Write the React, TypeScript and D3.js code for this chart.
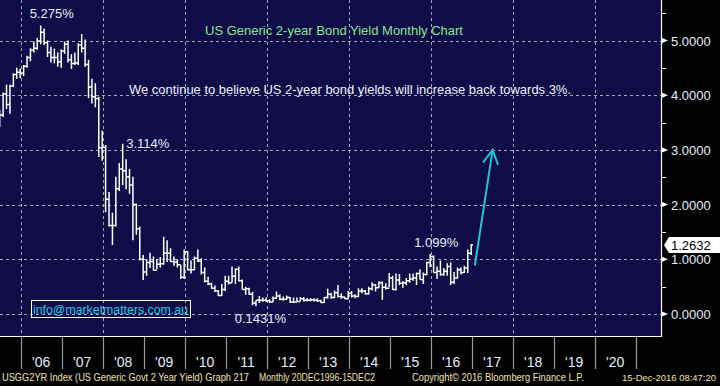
import React from 'react';
import * as d3 from 'd3';

// Monthly OHLC of US Generic 2Y yield, Jun 2005 .. Dec 2016 (open = previous close)
const firstMonth = { year: 2005, month: 5 }; // June 2005 (0-based month)
const firstOpen = 3.55;
const highs = [
  3.73, 4.05, 4.19, 4.19, 4.40, 4.50, 4.49,
  4.55, 4.72, 4.86, 4.98, 5.05, 5.275, 5.22, 5.00, 4.88, 4.85, 4.78, 4.84,
  4.98, 5.00, 4.75, 4.78, 4.95, 5.12, 5.02, 4.65, 4.30, 4.22, 3.97, 3.35,
  3.09, 2.23, 1.85, 2.51, 2.76, 3.114, 2.83, 2.65, 2.51, 2.02, 1.60, 1.08,
  1.00, 1.12, 1.05, 1.00, 1.04, 1.41, 1.35, 1.20, 1.05, 1.00, 0.89, 1.18,
  1.15, 0.98, 1.05, 1.18, 1.02, 0.85, 0.68, 0.57, 0.52, 0.44, 0.55, 0.70,
  0.70, 0.87, 0.83, 0.87, 0.63, 0.50, 0.48, 0.40, 0.25, 0.33, 0.30, 0.30,
  0.27, 0.32, 0.41, 0.36, 0.32, 0.34, 0.31, 0.30, 0.30, 0.31, 0.31, 0.29,
  0.29, 0.29, 0.29, 0.26, 0.31, 0.46, 0.39, 0.43, 0.53, 0.38, 0.32, 0.42,
  0.42, 0.36, 0.47, 0.47, 0.44, 0.50, 0.58, 0.55, 0.60, 0.60, 0.56, 0.75,
  0.70, 0.74, 0.73, 0.60, 0.66, 0.74, 0.74, 0.76, 0.82, 0.76, 0.95, 1.099,
  1.07, 0.87, 0.98, 0.84, 0.93, 0.94, 0.77, 0.85, 0.85, 0.88, 1.18, 1.28,
];
const lows = [
  3.42, 3.60, 3.75, 3.66, 4.15, 4.30, 4.31,
  4.35, 4.50, 4.62, 4.78, 4.83, 4.93, 4.92, 4.70, 4.60, 4.58, 4.52, 4.50,
  4.76, 4.60, 4.48, 4.55, 4.55, 4.78, 4.52, 3.95, 3.85, 3.78, 2.87, 2.80,
  1.86, 1.60, 1.26, 1.60, 2.25, 2.36, 2.28, 2.20, 1.35, 1.45, 0.98, 0.62,
  0.70, 0.84, 0.80, 0.82, 0.85, 0.90, 0.95, 0.95, 0.88, 0.85, 0.64, 0.64,
  0.80, 0.74, 0.80, 0.95, 0.72, 0.58, 0.53, 0.46, 0.40, 0.33, 0.33, 0.42,
  0.54, 0.57, 0.55, 0.60, 0.45, 0.35, 0.35, 0.16, 0.1431, 0.20, 0.22, 0.22,
  0.20, 0.22, 0.28, 0.25, 0.24, 0.26, 0.20, 0.20, 0.22, 0.23, 0.23, 0.23,
  0.23, 0.23, 0.22, 0.20, 0.20, 0.28, 0.28, 0.29, 0.30, 0.28, 0.27, 0.27,
  0.30, 0.29, 0.31, 0.38, 0.35, 0.35, 0.43, 0.41, 0.48, 0.26, 0.45, 0.49,
  0.44, 0.43, 0.53, 0.48, 0.53, 0.57, 0.61, 0.53, 0.63, 0.55, 0.71, 0.86,
  0.76, 0.64, 0.70, 0.70, 0.70, 0.53, 0.55, 0.65, 0.72, 0.75, 0.75, 1.08,
];
const closes = [
  3.64, 4.02, 3.83, 4.17, 4.38, 4.42, 4.40,
  4.53, 4.69, 4.82, 4.86, 4.99, 5.15, 4.96, 4.78, 4.69, 4.69, 4.61, 4.81,
  4.93, 4.65, 4.58, 4.59, 4.92, 4.86, 4.56, 4.15, 3.97, 3.94, 3.04, 3.05,
  2.10, 1.62, 1.62, 2.29, 2.65, 2.62, 2.51, 2.36, 2.00, 1.56, 1.00, 0.77,
  0.94, 0.96, 0.80, 0.91, 0.92, 1.11, 1.11, 0.96, 0.95, 0.90, 0.67, 1.14,
  0.81, 0.81, 1.02, 0.97, 0.76, 0.60, 0.55, 0.47, 0.42, 0.34, 0.45, 0.60,
  0.57, 0.69, 0.82, 0.61, 0.45, 0.46, 0.36, 0.20, 0.25, 0.25, 0.25, 0.24,
  0.22, 0.29, 0.33, 0.27, 0.27, 0.30, 0.22, 0.22, 0.23, 0.28, 0.25, 0.25,
  0.26, 0.25, 0.24, 0.21, 0.30, 0.36, 0.30, 0.39, 0.32, 0.31, 0.28, 0.38,
  0.33, 0.32, 0.42, 0.42, 0.37, 0.46, 0.53, 0.48, 0.57, 0.49, 0.47, 0.66,
  0.45, 0.62, 0.56, 0.57, 0.61, 0.64, 0.66, 0.74, 0.63, 0.72, 0.94, 1.05,
  0.76, 0.78, 0.72, 0.78, 0.87, 0.58, 0.66, 0.81, 0.76, 0.84, 1.11, 1.2632,
];

const yTicks = [0, 1, 2, 3, 4, 5];
const yMinorTicks = [0.5, 1.5, 2.5, 3.5, 4.5, 5.5];
const years = d3.range(2006, 2022);
const yearLabels = ["'06", "'07", "'08", "'09", "'10", "'11", "'12", "'13", "'14", "'15", "'16", "'17", "'18", "'19", "'20"];
const gridYears = [2006, 2008, 2010, 2012, 2014, 2016, 2018, 2020];
const lastValue = 1.2632;
const arrowFrom = { t: 2017.08, v: 0.9 };
const arrowTo = { t: 2017.51, v: 3.0 };

const FONT = '"Liberation Sans", Arial, sans-serif';

export default function App() {
  const plotRight = 661;
  const plotBottom = 336;
  const x = d3.scaleLinear().domain([2006, 2021]).range([20.7, 635.7]);
  const y = d3.scaleLinear().domain([0, 5]).range([314, 40.5]);

  const bars = closes.map((c, i) => {
    const t = firstMonth.year + (firstMonth.month + i + 0.85) / 12;
    const o = i === 0 ? firstOpen : closes[i - 1];
    return { t, o, h: highs[i], l: lows[i], c };
  });

  const ohlcPath = bars
    .map((b) => {
      const xx = x(b.t);
      return `M${xx},${y(b.h)}V${y(b.l)}M${xx - 1.8},${y(b.o)}H${xx}M${xx},${y(b.c)}H${xx + 1.8}`;
    })
    .join('');

  const peak = bars.find((b) => b.h === 5.275)!;
  const p08 = bars.find((b) => b.h === 3.114)!;
  const p15 = bars.find((b) => b.h === 1.099)!;
  const low11 = bars.find((b) => b.l === 0.1431)!;

  // arrow
  const ax1 = x(arrowFrom.t), ay1 = y(arrowFrom.v);
  const ax2 = x(arrowTo.t), ay2 = y(arrowTo.v);
  const ang = Math.atan2(ay1 - ay2, ax1 - ax2);
  const wing = 15, spread = 0.5;
  const w1 = [ax2 + wing * Math.cos(ang + spread), ay2 + wing * Math.sin(ang + spread)];
  const w2 = [ax2 + wing * Math.cos(ang - spread), ay2 + wing * Math.sin(ang - spread)];

  const yl = y(lastValue);
  const labelColor = '#e6ecff';

  return (
    <svg width={720} height={386} style={{ position: 'absolute', left: 0, top: 0, background: '#000' }} fontFamily={FONT}>
      <defs>
        <clipPath id="plot">
          <rect x={0} y={0} width={plotRight} height={plotBottom} />
        </clipPath>
      </defs>
      <rect x={0} y={0} width={720} height={386} fill="#000" />
      <rect x={0} y={0} width={plotRight} height={plotBottom} fill="#0f0c47" />

      {/* grid */}
      <g stroke="#a8a8b4" strokeWidth={1} strokeDasharray="3,3">
        {yTicks.map((t) => (
          <line key={'h' + t} x1={0} x2={plotRight} y1={Math.round(y(t)) + 0.5} y2={Math.round(y(t)) + 0.5} />
        ))}
        {gridYears.map((g) => (
          <line key={'v' + g} x1={Math.round(x(g)) + 0.5} x2={Math.round(x(g)) + 0.5} y1={0} y2={plotBottom} />
        ))}
      </g>

      {/* texts in plot */}
      <text x={334} y={35} fill="#86e68e" fontSize={13} textAnchor="middle">US Generic 2-year Bond Yield Monthly Chart</text>
      <text x={129} y={94} fill="#f2f2ff" fontSize={13} textLength={442} lengthAdjust="spacingAndGlyphs">We continue to believe US 2-year bond yields will increase back towards 3%.</text>

      {/* OHLC bars */}
      <g clipPath="url(#plot)">
        <path d={ohlcPath} stroke="#ffffff" strokeWidth={1.5} fill="none" />
      </g>

      {/* annotations */}
      <text x={x(peak.t) + 11} y={y(peak.h) - 7} fill={labelColor} fontSize={13} textAnchor="middle">5.275%</text>
      <text x={x(p08.t) + 3.5} y={y(p08.h) + 4.5} fill={labelColor} fontSize={13}>3.114%</text>
      <text x={x(p15.t) + 6} y={y(p15.h) - 6.5} fill={labelColor} fontSize={13} textAnchor="middle">1.099%</text>
      <text x={x(low11.t) + 4.5} y={y(low11.l) + 17} fill={labelColor} fontSize={13} textAnchor="middle">0.1431%</text>

      {/* arrow */}
      <g stroke="#1cc6d6" strokeWidth={2} fill="none" strokeLinecap="round">
        <line x1={ax1} y1={ay1} x2={ax2} y2={ay2} />
        <polyline points={`${w1[0]},${w1[1]} ${ax2},${ay2} ${w2[0]},${w2[1]}`} />
      </g>

      {/* email box */}
      <rect x={31.5} y={300.5} width={159} height={17} fill="none" stroke="#ffffff" strokeWidth={1} />
      <text x={33} y={313.5} fill="#1fc8e6" fontSize={13} textLength={155} lengthAdjust="spacingAndGlyphs">info@marketmatters.com.au</text>

      {/* axes lines */}
      <line x1={plotRight + 0.5} x2={plotRight + 0.5} y1={0} y2={plotBottom + 1} stroke="#fff" strokeWidth={1.2} />
      <line x1={0} x2={plotRight + 1} y1={plotBottom + 0.5} y2={plotBottom + 0.5} stroke="#fff" strokeWidth={1.2} />

      {/* right axis */}
      {yMinorTicks.map((t) => (
        <line key={'m' + t} x1={plotRight} x2={plotRight + 5} y1={Math.round(y(t)) + 0.5} y2={Math.round(y(t)) + 0.5} stroke="#fff" strokeWidth={1} />
      ))}
      {yTicks.map((t) => (
        <g key={'t' + t}>
          <path d={`M${plotRight},${y(t) - 3}L${plotRight + 7},${y(t)}L${plotRight},${y(t) + 3}Z`} fill="#fff" />
          <text x={671} y={y(t) + 5} fill={labelColor} fontSize={13}>{d3.format('.4f')(t)}</text>
        </g>
      ))}

      {/* last value label */}
      <path d={`M${plotRight + 3},${yl}L${plotRight + 8},${yl - 8}H720V${yl + 8}H${plotRight + 8}Z`} fill="#ffffff" />
      <text x={671} y={yl + 5} fill="#000" fontSize={13}>{d3.format('.4f')(lastValue)}</text>

      {/* x axis */}
      {years.map((yr) => (
        <line key={'x' + yr} x1={Math.round(x(yr)) + 0.5} x2={Math.round(x(yr)) + 0.5} y1={plotBottom + 1} y2={369} stroke="#9a9a9a" strokeWidth={1.2} />
      ))}
      {yearLabels.map((lab, i) => (
        <text key={lab} x={x(2006 + i + 0.5)} y={366.5} fill={labelColor} fontSize={14} textAnchor="middle">{lab}</text>
      ))}

      {/* footer */}
      <g fill="#f2e2b0" fontSize={10}>
        <text x={2} y={381} textLength={247} lengthAdjust="spacingAndGlyphs">USGG2YR Index (US Generic Govt 2 Year Yield) Graph 217</text>
        <text x={259} y={381} textLength={116} lengthAdjust="spacingAndGlyphs">Monthly 20DEC1996-15DEC2</text>
        <text x={412} y={381} textLength={172} lengthAdjust="spacingAndGlyphs">Copyright© 2016 Bloomberg Finance L.P.</text>
        <text x={622} y={381} fontSize={9.4} textLength={94} lengthAdjust="spacingAndGlyphs">15-Dec-2016 08:47:20</text>
      </g>
    </svg>
  );
}
